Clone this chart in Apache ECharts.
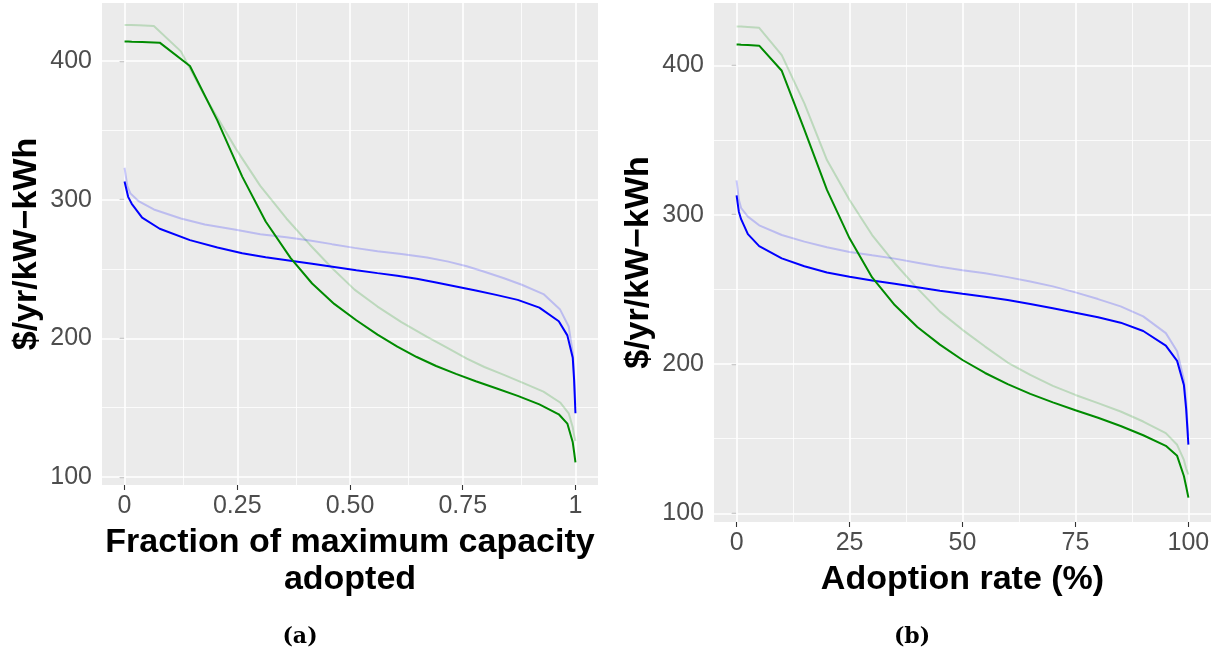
<!DOCTYPE html>
<html>
<head>
<meta charset="utf-8">
<script src="https://cdn.jsdelivr.net/npm/echarts@6/dist/echarts.min.js"></script>
<style>
  html, body { margin: 0; padding: 0; background: #ffffff; }
  #chart { width: 1213px; height: 651px; }
</style>
</head>
<body>
<div id="chart"></div>
<script>
// ---- data ----
const pct = [0, 0.5, 1, 2.5, 5, 10, 15, 20, 25, 30, 35, 40, 45, 50, 55, 60, 65, 70, 75, 80, 85, 90, 95, 97.5, 99, 99.5, 100];
const fracDark = [0, 0.008, 0.016, 0.039, 0.078, 0.145, 0.206, 0.261, 0.313, 0.368, 0.416, 0.465, 0.514, 0.561, 0.605, 0.648, 0.691, 0.735, 0.779, 0.824, 0.872, 0.92, 0.963, 0.982, 0.994, 0.997, 1.0];
const fracLight = [0, 0.006, 0.013, 0.032, 0.065, 0.125, 0.178, 0.247, 0.301, 0.359, 0.411, 0.46, 0.51, 0.561, 0.614, 0.671, 0.718, 0.759, 0.798, 0.84, 0.881, 0.929, 0.966, 0.985, 0.994, 0.997, 1.0];
const blueDark = [313, 302, 297, 287, 279, 270.8, 265.5, 261.3, 258.5, 256, 253.7, 251.4, 249.1, 247, 245.1, 242.9, 240.2, 237.3, 234.4, 231.3, 227.7, 222.1, 212.3, 202.1, 186, 170, 146];
const blueLight = [323, 310, 304.5, 298.7, 292.9, 286.4, 282, 278.2, 275.1, 272.8, 270.6, 267.9, 265.2, 262.8, 260.8, 258.2, 255.3, 252, 248, 243.5, 238.6, 231.9, 220.7, 208.5, 189.5, 174, 152];
const greenDark = [414, 414, 413.8, 413.6, 413.2, 396.4, 357, 316.6, 284.2, 258, 239.5, 224.8, 213, 202.7, 194, 186.5, 180, 174.3, 169, 164, 158.5, 152.3, 145.2, 138.5, 125, 118, 110.5];
const greenLight = [426, 426, 426, 425.8, 425.2, 406.9, 374.6, 336.6, 309.9, 286.4, 267.5, 250.7, 235.1, 222.9, 211.7, 201.0, 192.7, 185.4, 179.3, 173.8, 168.2, 161.5, 153.7, 145.9, 135.8, 130, 126];

const xTicksA = [0, 0.25, 0.5, 0.75, 1];
const xTickLabelsA = ['0', '0.25', '0.50', '0.75', '1'];
const xMinorA = [0.125, 0.375, 0.625, 0.875];
const xTicksB = [0, 25, 50, 75, 100];
const xTickLabelsB = ['0', '25', '50', '75', '100'];
const xMinorB = [12.5, 37.5, 62.5, 87.5];
const yTicks = [100, 200, 300, 400];
const yTickLabels = ['100', '200', '300', '400'];
const yMinor = [150, 250, 350];

const yTitle = '$/yr/kW\u2212kWh';
const xTitleA = 'Fraction of maximum capacity\nadopted';
const xTitleB = 'Adoption rate (%)';
const captions = ['(a)', '(b)'];

// ---- helpers ----
const SANS = '"Liberation Sans", Arial, sans-serif';
function pairs(xs, ys) { return xs.map((x, i) => [x, ys[i]]); }
function lookup(ticks, labels) {
  return function (v) {
    for (let i = 0; i < ticks.length; i++) if (Math.abs(ticks[i] - v) < 1e-9) return labels[i];
    return '';
  };
}
function gridLines(xMajor, xMinor) {
  const d = [];
  xMajor.forEach(v => d.push({ xAxis: v, lineStyle: { width: 1.6 } }));
  xMinor.forEach(v => d.push({ xAxis: v, lineStyle: { width: 0.8 } }));
  yTicks.forEach(v => d.push({ yAxis: v, lineStyle: { width: 1.6 } }));
  yMinor.forEach(v => d.push({ yAxis: v, lineStyle: { width: 0.8 } }));
  return {
    silent: true, z: 1, symbol: ['none', 'none'], label: { show: false },
    lineStyle: { color: '#FFFFFF', type: 'solid', opacity: 1 },
    emphasis: { disabled: true },
    animation: false,
    data: d
  };
}
function xAxisDef(gi, min, max, ticks, labels, name) {
  return {
    gridIndex: gi, type: 'value', min: min, max: max,
    axisLine: { show: false },
    axisTick: { show: true, customValues: ticks, length: 5, lineStyle: { color: '#333333', width: 1.1 } },
    axisLabel: { customValues: ticks, formatter: lookup(ticks, labels), color: '#4D4D4D', fontSize: 25, fontFamily: SANS, margin: 9 },
    splitLine: { show: false },
    name: name, nameLocation: 'middle', nameGap: 37,
    nameTextStyle: { color: '#000000', fontSize: 34, fontWeight: 'bold', fontFamily: SANS, lineHeight: 37, verticalAlign: 'top' }
  };
}
function yAxisDef(gi) {
  return {
    gridIndex: gi, type: 'value', min: 94.2, max: 441.8,
    axisLine: { show: false },
    axisTick: { show: true, customValues: yTicks, length: 5, lineStyle: { color: '#333333', width: 1.1 } },
    axisLabel: { customValues: yTicks, formatter: lookup(yTicks, yTickLabels), color: '#4D4D4D', fontSize: 25, fontFamily: SANS, margin: 10 },
    splitLine: { show: false },
    name: yTitle, nameLocation: 'middle', nameGap: 58, nameRotate: 90,
    nameTextStyle: { color: '#000000', fontSize: 34, fontWeight: 'bold', fontFamily: SANS }
  };
}
function lineSeries(gi, data, color, opacity, z, extra) {
  return Object.assign({
    type: 'line', xAxisIndex: gi, yAxisIndex: gi, data: data,
    showSymbol: false, symbol: 'none', smooth: false, z: z,
    lineStyle: { color: color, width: 2, opacity: opacity },
    itemStyle: { color: color },
    emphasis: { disabled: true }, silent: true, animation: false
  }, extra || {});
}

const BLUE = '#0000FF', GREEN = '#008B00';
const CAPFONT = 'bold 22px "DejaVu Serif", "Liberation Serif", serif';

const option = {
  animation: false,
  backgroundColor: '#FFFFFF',
  grid: [
    { left: 102, top: 3, width: 496, height: 482, show: true, backgroundColor: '#EBEBEB', borderWidth: 0 },
    { left: 714, top: 3, width: 497, height: 519, show: true, backgroundColor: '#EBEBEB', borderWidth: 0 }
  ],
  xAxis: [
    xAxisDef(0, -0.05, 1.05, xTicksA, xTickLabelsA, xTitleA),
    xAxisDef(1, -5, 105, xTicksB, xTickLabelsB, xTitleB)
  ],
  yAxis: [yAxisDef(0), yAxisDef(1)],
  series: [
    lineSeries(0, pairs(fracLight, greenLight), GREEN, 0.2, 2, { markLine: gridLines(xTicksA, xMinorA) }),
    lineSeries(0, pairs(fracLight, blueLight), BLUE, 0.2, 2),
    lineSeries(0, pairs(fracDark, blueDark), BLUE, 1, 3),
    lineSeries(0, pairs(fracDark, greenDark), GREEN, 1, 3),
    lineSeries(1, pairs(pct, greenLight), GREEN, 0.2, 2, { markLine: gridLines(xTicksB, xMinorB) }),
    lineSeries(1, pairs(pct, blueLight), BLUE, 0.2, 2),
    lineSeries(1, pairs(pct, blueDark), BLUE, 1, 3),
    lineSeries(1, pairs(pct, greenDark), GREEN, 1, 3)
  ],
  graphic: [
    { type: 'text', x: 300, y: 637, style: { text: captions[0], textAlign: 'center', textVerticalAlign: 'middle', font: CAPFONT, fill: '#000' } },
    { type: 'text', x: 912, y: 637, style: { text: captions[1], textAlign: 'center', textVerticalAlign: 'middle', font: CAPFONT, fill: '#000' } }
  ]
};

const chart = echarts.init(document.getElementById('chart'), null, { renderer: 'canvas' });
chart.setOption(option);
</script>
</body>
</html>
